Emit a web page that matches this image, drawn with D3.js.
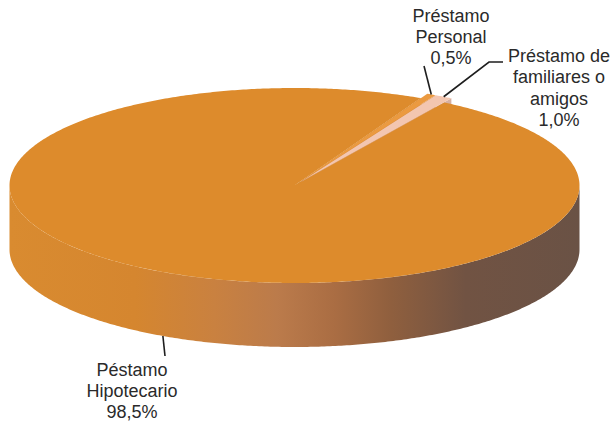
<!DOCTYPE html>
<html>
<head>
<meta charset="utf-8">
<script src="https://cdn.jsdelivr.net/npm/d3@7"></script>
<style>
  html, body { margin: 0; padding: 0; background: #ffffff; }
  svg { display: block; }
</style>
</head>
<body>
<script>
// Loan sources, share of total (%)
const categories = ["Péstamo Hipotecario", "Préstamo Personal", "Préstamo de familiares o amigos"];
const labelLines = [["Péstamo", "Hipotecario"], ["Préstamo", "Personal"], ["Préstamo de", "familiares o", "amigos"]];
const shares = [98.5, 0.5, 1.0];
const topColors = ["#dd8b2c", "#eb9a40", "#f3c6b0"];
const cutColors = ["#d78930", "#d98a36", "#d6b0a2"];

const W = 615, H = 424;
const cx = 294.5, cy = 185.5, rx = 285, ry = 97.5, depth = 64;
const startDeg = 31.7;      // where the first slice begins, clockwise from the back
const explodeBy = [0, 0.05, 0.05];

// label placement: text centre, first baseline, line step, leader end points
const labelLayout = [
  { x: 132, y: 376, step: 21, anchorDeg: 207.5, onBottom: true, path: [[165, 356]] },
  { x: 451, y: 21.5, step: 21, anchorDeg: null, onBottom: false, path: [[424, 66]] },
  { x: 559, y: 62, step: 21.3, anchorDeg: null, onBottom: false, path: [[489, 62], [503, 62]] }
];

const svg = d3.select("body").append("svg").attr("width", W).attr("height", H);

const pie = d3.pie().sort(null).value(d => d)
  .startAngle(startDeg * Math.PI / 180)
  .endAngle(startDeg * Math.PI / 180 + 2 * Math.PI);
const arcs = pie(shares);

// projected point of angle a (clockwise from the back) at radius fraction r
function pt(a, r, off, dz) {
  return [cx + off[0] + r * rx * Math.sin(a), cy + off[1] - r * ry * Math.cos(a) + (dz || 0)];
}
function offsetOf(d, i) {
  const m = (d.startAngle + d.endAngle) / 2, e = explodeBy[i];
  return [e * rx * Math.sin(m), -e * ry * Math.cos(m)];
}
function topPath(a0, a1, off) {
  const p = d3.path();
  const c = pt(0, 0, off);
  p.moveTo(c[0], c[1]);
  const n = Math.max(2, Math.ceil((a1 - a0) / 0.01));
  for (let k = 0; k <= n; k++) {
    const q = pt(a0 + (a1 - a0) * k / n, 1, off);
    p.lineTo(q[0], q[1]);
  }
  p.closePath();
  return p.toString();
}
function cutPath(a, off) {
  const c0 = pt(0, 0, off), e0 = pt(a, 1, off), e1 = pt(a, 1, off, depth), c1 = pt(0, 0, off, depth);
  return `M${c0}L${e0}L${e1}L${c1}Z`;
}
function wallPath(a0, a1, off) {
  const lo = Math.max(a0, Math.PI / 2), hi = Math.min(a1, 3 * Math.PI / 2);
  if (hi <= lo) return null;
  const p = d3.path();
  const n = Math.ceil((hi - lo) / 0.01);
  for (let k = 0; k <= n; k++) {
    const q = pt(lo + (hi - lo) * k / n, 1, off);
    if (k === 0) p.moveTo(q[0], q[1]); else p.lineTo(q[0], q[1]);
  }
  for (let k = n; k >= 0; k--) {
    const q = pt(lo + (hi - lo) * k / n, 1, off, depth);
    p.lineTo(q[0], q[1]);
  }
  p.closePath();
  return p.toString();
}

// shading of the front wall, orange on the left to dark brown on the right
const defs = svg.append("defs");
const grad = defs.append("linearGradient").attr("id", "wall")
  .attr("gradientUnits", "userSpaceOnUse")
  .attr("x1", cx - rx).attr("x2", cx + rx).attr("y1", 0).attr("y2", 0);
[[0, "#d98b30"], [0.22, "#d5862f"], [0.36, "#c98140"], [0.47, "#bb7b4b"], [0.57, "#aa6d43"],
 [0.67, "#8f5f3e"], [0.8, "#715343"], [1, "#6a5245"]]
  .forEach(s => grad.append("stop").attr("offset", s[0]).attr("stop-color", s[1]));

const big = arcs[0];
const g = svg.append("g");

// visible cut face of the large slice (its clockwise end)
g.append("path").attr("d", cutPath(big.endAngle, [0, 0])).attr("fill", cutColors[0]);

// the two small, pulled-out slices
[1, 2].forEach(i => {
  const d = arcs[i], off = offsetOf(d, i);
  g.append("path").attr("d", cutPath(d.endAngle, off)).attr("fill", cutColors[i]);
  g.append("path").attr("d", topPath(d.startAngle, d.endAngle, off)).attr("fill", topColors[i]);
});

// front wall and top of the large slice
g.append("path").attr("d", wallPath(big.startAngle, big.endAngle, [0, 0])).attr("fill", "url(#wall)");
g.append("path").attr("d", topPath(big.startAngle, big.endAngle, [0, 0])).attr("fill", topColors[0]);

// labels and leader lines
const fmt = v => d3.format(".1f")(v).replace(".", ",") + "%";
arcs.forEach((d, i) => {
  const L = labelLayout[i];
  const off = offsetOf(d, i);
  const a = L.anchorDeg != null ? L.anchorDeg * Math.PI / 180 : (d.startAngle + d.endAngle) / 2;
  const start = pt(a, 1, off, L.onBottom ? depth : 0);
  svg.append("path")
    .attr("d", d3.line()([start, ...L.path]))
    .attr("fill", "none").attr("stroke", "#1e1e1e").attr("stroke-width", 1.6);
  const lines = [...labelLines[i], fmt(shares[i])];
  const t = svg.append("text")
    .attr("font-family", "'Liberation Sans', Arial, Helvetica, sans-serif")
    .attr("font-size", 18).attr("fill", "#2a2a2a").attr("text-anchor", "middle");
  lines.forEach((s, k) => t.append("tspan").attr("x", L.x).attr("y", L.y + k * L.step).text(s));
});
</script>
</body>
</html>
